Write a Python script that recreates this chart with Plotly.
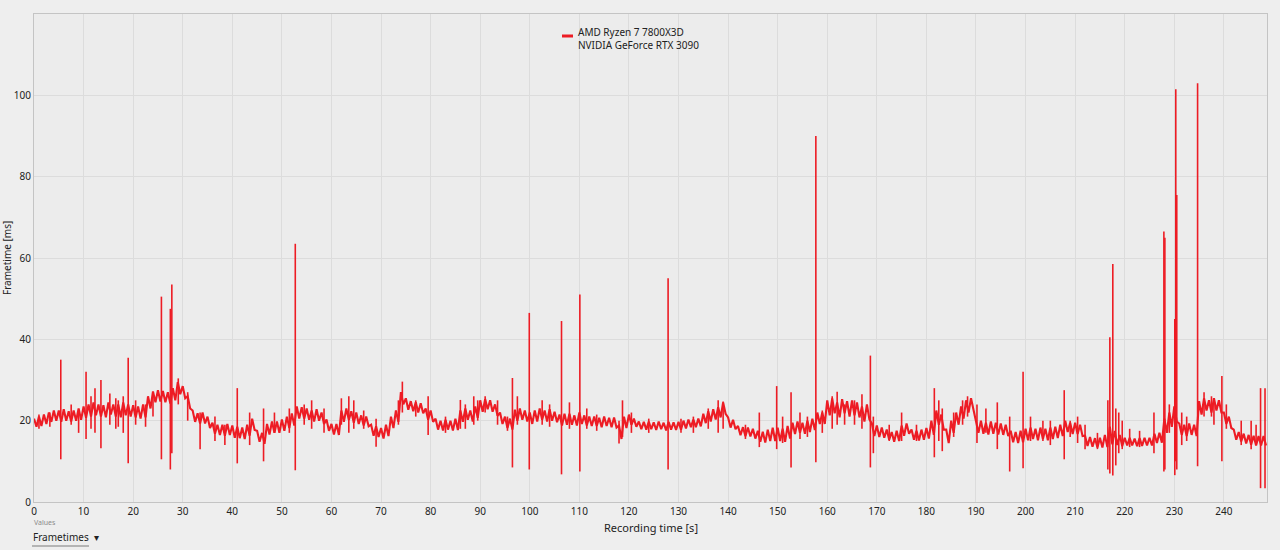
import plotly.graph_objects as go

# ---- data ----
# upper / lower edge of the noisy frametime band (ms), one pair per second 0..248
band_hi = [
    20.5, 21.0, 21.5, 22.0, 22.5,  22.5, 22.8, 22.3, 22.5, 23.0,
    23.5, 24.0, 24.5, 24.0, 23.8,  24.5, 24.0, 24.0, 24.5, 24.0,
    23.8, 23.5, 24.0, 26.0, 27.2,  27.5, 27.3, 27.0, 28.0, 29.5,
    28.5, 26.0, 22.5, 21.8, 22.0,  21.0, 19.5, 19.0, 19.0, 19.2,
    18.8, 18.5, 18.3, 19.0, 20.5,  17.5, 17.0, 19.2, 19.8, 19.8,
    20.3, 21.0, 21.8, 23.5, 23.3,  23.0, 22.5, 22.8, 22.0, 20.3,
    19.2, 19.2, 22.5, 23.0, 22.3,  22.0, 21.3, 21.0, 19.0, 18.6,
    18.2, 19.0, 21.0, 22.5, 27.0,  25.5, 24.8, 24.5, 24.3, 23.0,
    22.5, 20.5, 20.0, 20.2, 20.0,  20.5, 22.5, 23.0, 22.5, 23.5,
    25.0, 25.3, 25.0, 24.0, 22.0,  21.0, 20.5, 22.7, 23.0, 22.5,
    22.0, 22.5, 23.0, 22.5, 22.8,  22.2, 21.5, 21.7, 21.7, 21.3,
    22.0, 21.3, 21.0, 21.0, 20.7,  21.0, 20.7, 20.8, 18.8, 21.0,
    21.5, 20.5, 19.8, 19.7, 19.8,  19.6, 19.8, 19.5, 19.7, 19.6,
    19.7, 20.0, 20.3, 20.3, 20.5,  21.7, 22.3, 22.8, 23.3, 24.5,
    20.8, 20.2, 18.7, 18.4, 18.3,  18.0, 17.5, 17.3, 17.8, 18.3,
    18.3, 18.0, 18.7, 19.5, 19.8,  19.5, 20.0, 20.5, 22.0, 22.0,
    25.0, 25.5, 24.5, 25.3, 24.8,  25.0, 24.5, 23.5, 24.0, 19.3,
    18.8, 18.3, 17.8, 17.2, 17.5,  18.8, 19.3, 17.8, 17.5, 17.8,
    18.2, 20.0, 22.5, 21.5, 17.8,  20.0, 22.0, 23.5, 25.0, 25.5,
    20.3, 20.0, 19.5, 19.8, 19.5,  19.3, 19.0, 17.5, 17.2, 17.5,
    18.0, 18.3, 18.0, 18.3, 18.0,  18.3, 18.5, 19.0, 20.0, 19.5,
    19.5, 19.0, 16.3, 16.0, 15.7,  15.8, 16.5, 18.5, 17.5, 16.5,
    15.8, 15.8, 15.6, 15.7, 15.8,  15.8, 16.8, 17.0, 20.5, 22.0,
    23.5, 19.3, 19.0, 19.3, 19.0,  24.8, 25.5, 25.0, 25.5, 25.0,
    22.0, 21.0, 17.8, 17.2, 16.8,  16.5, 16.3, 16.2, 16.2,
]
band_lo = [
    18.5, 18.7, 19.2, 19.7, 20.0,  19.7, 20.0, 19.8, 20.0, 20.2,
    20.7, 21.0, 21.3, 21.0, 20.8,  21.5, 21.0, 20.8, 21.3, 21.0,
    20.8, 20.5, 20.8, 23.0, 24.5,  24.7, 24.5, 24.2, 25.0, 26.5,
    25.5, 23.0, 19.7, 19.3, 19.3,  18.2, 16.8, 16.5, 16.3, 16.5,
    15.8, 15.7, 15.5, 16.3, 17.7,  14.8, 14.3, 16.6, 17.0, 17.0,
    17.5, 18.2, 18.8, 20.5, 20.5,  20.2, 19.8, 20.0, 19.2, 17.5,
    16.6, 16.5, 19.7, 20.2, 19.5,  19.2, 18.8, 18.6, 16.3, 16.0,
    15.6, 16.2, 18.2, 19.7, 24.0,  22.7, 22.3, 22.0, 21.8, 20.2,
    19.7, 17.8, 17.6, 17.8, 17.6,  17.7, 19.7, 20.2, 19.8, 20.7,
    22.2, 22.8, 22.2, 21.2, 19.2,  18.2, 17.8, 20.0, 20.2, 19.8,
    19.2, 19.8, 20.2, 19.8, 20.0,  19.6, 18.8, 19.0, 19.0, 18.8,
    19.2, 18.8, 18.7, 18.7, 18.4,  18.7, 18.4, 18.3, 15.5, 18.2,
    19.0, 18.5, 17.9, 17.8, 17.9,  17.7, 17.9, 17.6, 17.8, 17.7,
    17.8, 18.1, 18.4, 18.4, 18.6,  19.4, 19.8, 20.3, 20.8, 21.7,
    18.3, 17.9, 16.4, 16.2, 16.1,  15.6, 14.8, 14.6, 15.0, 15.0,
    15.0, 14.8, 15.6, 16.7, 17.0,  16.8, 17.2, 17.7, 19.2, 19.2,
    21.3, 21.8, 20.8, 21.8, 21.0,  21.3, 20.8, 19.8, 20.3, 16.2,
    16.0, 15.8, 15.3, 14.8, 15.0,  16.3, 16.8, 15.3, 15.1, 15.3,
    15.6, 16.5, 19.0, 17.8, 14.5,  17.0, 19.0, 20.5, 22.0, 22.5,
    17.0, 16.8, 16.6, 16.8, 16.6,  16.5, 16.2, 14.7, 14.5, 14.7,
    15.2, 15.5, 15.2, 15.5, 15.2,  15.5, 15.7, 16.2, 17.2, 16.7,
    16.7, 16.2, 13.8, 13.6, 13.4,  13.4, 13.5, 14.2, 14.0, 13.7,
    13.9, 13.9, 13.7, 13.8, 13.9,  13.9, 14.5, 14.6, 17.0, 18.5,
    19.8, 16.5, 16.2, 16.5, 16.2,  21.5, 22.5, 22.0, 22.5, 22.0,
    19.2, 18.2, 15.3, 14.9, 14.4,  14.1, 13.9, 13.9, 13.9,
]

# individual spikes: time (s), peak (ms), dip (ms)
spike_t = [
    1.0, 3.2, 5.4, 7.5, 9.0, 10.5, 11.5, 12.3, 13.5, 15.3, 16.5, 17.0, 18.0, 19.0,
    20.5, 22.5, 24.0, 25.7, 27.5, 27.8, 29.1, 31.0, 33.5, 36.5, 38.5, 41.0, 43.5,
    46.3, 48.5, 51.5, 52.7, 54.5, 56.0, 58.5, 62.0, 63.5, 64.5, 66.5, 69.0, 73.5,
    74.3, 77.0, 79.5, 83.0, 86.0, 87.0, 88.7, 89.5, 91.0, 93.5, 95.5, 96.5, 97.5,
    99.9, 102.5, 104.0, 106.4, 108.0, 110.1, 111.5, 113.5, 118.0, 118.7, 120.5,
    124.0, 127.9, 130.5, 133.0, 136.0, 138.0, 139.0, 143.5, 146.3, 149.8, 151.0,
    152.7, 154.5, 156.0, 157.7, 159.0, 161.0, 162.0, 163.5, 165.5, 167.0, 168.7,
    169.3, 172.5, 175.0, 178.0, 181.6, 182.5, 183.2, 185.5, 187.3, 188.3, 190.2,
    192.0, 194.3, 196.8, 199.5, 201.0, 203.5, 205.0, 207.8, 209.0, 210.5, 212.0,
    214.5, 216.6, 217.0, 217.6, 218.2, 218.8, 219.5, 221.0, 223.0, 225.9, 227.9,
    228.1, 229.0, 230.1, 230.3, 230.5, 231.5, 232.5, 234.7, 236.0, 237.5, 238.0,
    239.6, 240.5, 243.5, 245.5, 246.5, 247.4, 248.3,
]
spike_hi = [
    21.5, 22.0, 35.0, 24.0, 22.5, 32.0, 26.0, 28.0, 30.0, 26.7, 25.5, 25.0, 26.0, 35.5,
    25.0, 24.0, 26.5, 50.5, 47.5, 53.5, 30.4, 27.0, 22.0, 21.0, 19.0, 28.0, 22.0,
    23.0, 22.0, 23.0, 63.5, 24.0, 25.0, 23.0, 25.5, 26.0, 25.0, 22.5, 20.5, 25.0,
    29.6, 25.0, 26.0, 21.0, 25.1, 24.0, 26.0, 25.0, 26.0, 25.0, 21.0, 30.5, 26.0,
    46.5, 25.0, 24.0, 44.5, 24.5, 51.0, 23.0, 21.5, 20.0, 25.0, 22.0,
    20.5, 55.0, 20.5, 21.0, 23.0, 25.0, 24.7, 19.0, 22.0, 28.5, 21.0,
    27.0, 22.0, 21.0, 90.0, 22.5, 26.0, 27.1, 24.0, 25.0, 26.5, 36.0,
    21.0, 19.0, 22.0, 19.0, 28.0, 25.0, 23.0, 22.0, 25.0, 26.0, 24.0,
    23.0, 24.5, 21.0, 32.0, 21.0, 20.0, 20.0, 27.5, 20.0, 21.0, 19.0,
    17.0, 25.0, 40.5, 58.5, 23.0, 22.0, 20.0, 18.0, 17.5, 22.0, 66.5,
    65.0, 24.0, 45.0, 101.5, 75.5, 22.0, 21.0, 103.0, 27.0, 26.0, 25.0,
    31.0, 24.0, 20.0, 20.0, 19.0, 28.0, 28.0,
]
spike_lo = [
    18.0, 18.5, 10.5, 19.0, 17.0, 15.5, 18.0, 17.0, 13.2, 19.0, 18.0, 18.5, 17.0, 9.5,
    19.0, 18.5, 21.0, 10.5, 8.0, 12.0, 24.0, 20.0, 13.0, 15.0, 14.0, 9.5, 14.0,
    10.0, 17.0, 17.0, 7.8, 19.0, 18.0, 17.0, 19.0, 17.0, 18.0, 18.0, 13.6, 19.0,
    22.0, 21.0, 16.5, 17.0, 18.0, 18.0, 19.0, 20.0, 22.0, 19.0, 17.5, 8.5, 19.0,
    8.0, 19.0, 18.5, 6.8, 18.0, 7.5, 18.0, 17.5, 14.4, 16.0, 17.0,
    17.0, 8.0, 17.0, 17.0, 18.0, 17.0, 18.0, 15.5, 13.5, 13.0, 14.5,
    8.5, 15.5, 16.0, 9.8, 17.0, 18.0, 19.0, 19.0, 19.0, 18.0, 8.5,
    12.0, 15.0, 15.0, 15.0, 11.0, 15.0, 12.5, 16.0, 19.0, 21.0, 14.5,
    17.0, 13.0, 7.5, 8.3, 15.0, 15.0, 14.0, 10.5, 16.0, 14.5, 13.0,
    13.0, 8.0, 7.0, 6.5, 9.0, 12.0, 13.0, 13.5, 13.5, 12.0, 7.5,
    8.0, 17.0, 6.6, 10.0, 8.0, 14.0, 15.0, 8.8, 21.0, 21.0, 19.0,
    10.0, 18.0, 14.0, 13.0, 14.0, 3.4, 3.4,
]

legend_lines = ["AMD Ryzen 7 7800X3D", "NVIDIA GeForce RTX 3090"]
x_ticks = list(range(0, 250, 10))
y_ticks = [0, 20, 40, 60, 80, 100]

RED = "#ED1C24"
fig = go.Figure()

# noisy band: the trace alternates between the upper and lower edge each half second
bx, by = [], []
for i, (hi, lo) in enumerate(zip(band_hi, band_lo)):
    bx += [i, i + 0.5]
    by += [hi, lo]
fig.add_trace(go.Scatter(
    x=bx, y=by, mode="lines",
    line=dict(color=RED, width=2.1), showlegend=False, hoverinfo="skip",
))

# spikes as vertical strokes from dip to peak
sx, sy = [], []
for t, hi, lo in zip(spike_t, spike_hi, spike_lo):
    sx += [t, t, None]
    sy += [lo, hi, None]
fig.add_trace(go.Scatter(
    x=sx, y=sy, mode="lines", connectgaps=False,
    line=dict(color=RED, width=1.6), showlegend=False, hoverinfo="skip",
))

FONT = "Noto Sans"
fig.update_layout(
    width=1280, height=550,
    margin=dict(l=34, r=13, t=14, b=48),
    paper_bgcolor="#EEEEEE", plot_bgcolor="#ECECEC",
    font=dict(family=FONT, size=10, color="#222222"),
    showlegend=False,
)
fig.update_xaxes(range=[0, 248.7], tickvals=x_ticks, ticks="", showgrid=True,
                 gridcolor="#DCDCDC", gridwidth=1, zeroline=False,
                 showline=True, linecolor="#C4C4C4", linewidth=1, mirror=True,
                 tickfont=dict(size=10, color="#222222"))
fig.update_yaxes(range=[0, 120], tickvals=y_ticks, ticks="", showgrid=True,
                 gridcolor="#DCDCDC", gridwidth=1, zeroline=False,
                 showline=True, linecolor="#C4C4C4", linewidth=1, mirror=True,
                 tickfont=dict(size=10, color="#222222"))

def px_x(p):
    return (p - 34) / 1233.0

def px_y(q):
    return (502 - q) / 488.0

# manual legend (short line sample like the reference)
fig.add_shape(type="line", xref="paper", yref="paper",
              x0=px_x(562), x1=px_x(573), y0=px_y(36), y1=px_y(36),
              line=dict(color=RED, width=3))
fig.add_annotation(x=px_x(576), y=px_y(38), xref="paper", yref="paper",
                   xanchor="left", yanchor="middle", align="left",
                   text="<br>".join(legend_lines), showarrow=False,
                   font=dict(size=10, color="#222222"))

fig.add_annotation(x=px_x(651), y=px_y(527), xref="paper", yref="paper",
                   xanchor="center", yanchor="middle",
                   text="Recording time [s]", showarrow=False,
                   font=dict(size=11, color="#222222"))
fig.add_annotation(x=px_x(7), y=px_y(258), xref="paper", yref="paper",
                   xanchor="center", yanchor="middle",
                   text="Frametime [ms]", showarrow=False, textangle=-90,
                   font=dict(size=10, color="#222222"))
fig.add_annotation(x=px_x(32), y=px_y(522), xref="paper", yref="paper",
                   xanchor="left", yanchor="middle", text="Values", showarrow=False,
                   font=dict(size=7, color="#8A8A8A"))
fig.add_annotation(x=px_x(31), y=px_y(537), xref="paper", yref="paper",
                   xanchor="left", yanchor="middle", text="Frametimes  \u25BE",
                   showarrow=False, font=dict(size=10, color="#222222"))
fig.add_shape(type="line", xref="paper", yref="paper",
              x0=px_x(32), x1=px_x(89), y0=px_y(546), y1=px_y(546),
              line=dict(color="#7A7A7A", width=1))

fig.write_html("out.html")
